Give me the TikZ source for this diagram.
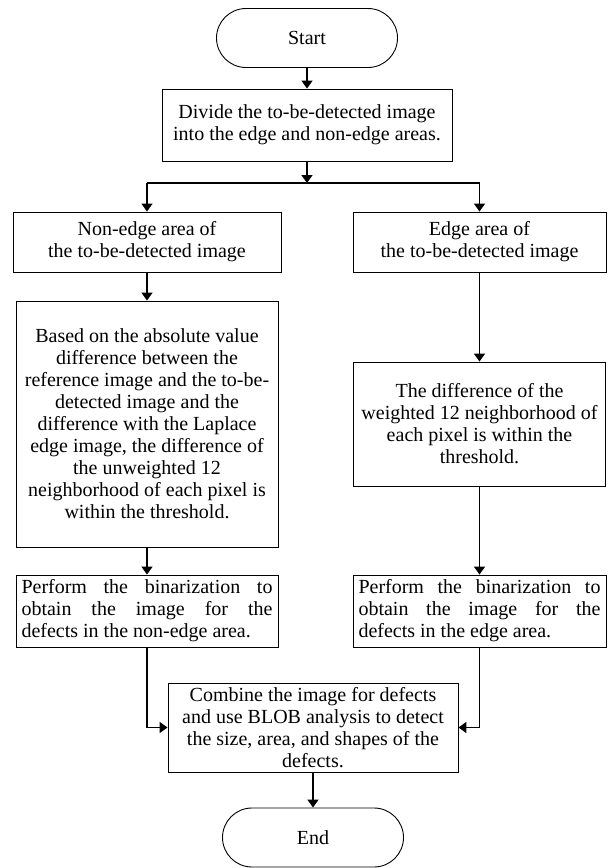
\documentclass[tikz,border=0pt]{standalone}
\usepackage{fontspec}
\setmainfont{Liberation Serif}
\usetikzlibrary{arrows.meta, positioning}

\begin{document}
\begin{tikzpicture}[
    x=1pt, y=-1pt,
    font=\fontsize{20}{22}\selectfont,
    startstop/.style={
        rectangle, draw=black, line width=0.9pt, fill=white,
        rounded corners=29.5pt, minimum height=59pt, minimum width=181pt,
        align=center
    },
    process/.style={
        rectangle, draw=black, line width=0.9pt, fill=white,
        inner sep=0pt, align=center
    },
    justbox/.style={
        process, align=justify, inner xsep=5.5pt, inner ysep=0pt
    },
    arrow/.style={
        -{Triangle[width=11pt,length=8pt]}, line width=1.6pt, draw=black
    }
]
    \useasboundingbox (0,0) rectangle (608,868);

    % --- NODES ---
    \node [startstop] (start) at (307, 38) {Start};
    \node [process, minimum width=290pt, minimum height=72pt] (divide) at (307, 125) {Divide the to-be-detected image\\into the edge and non-edge areas.};

    \coordinate (split) at (307, 183);
    \coordinate (split_l) at (147, 183);
    \coordinate (split_r) at (479.5, 183);

    \node [process, minimum width=268pt, minimum height=60pt] (p_nonedge) at (147, 242) {Non-edge area of\\the to-be-detected image};
    \node [process, minimum width=253pt, minimum height=60pt] (p_edge) at (479.5, 242) {Edge area of\\the to-be-detected image};

    \node [process, minimum width=262pt, minimum height=246pt] (p_diffnon) at (147, 424) {Based on the absolute value\\difference between the\\reference image and the to-be-\\detected image and the\\difference with the Laplace\\edge image, the difference of\\the unweighted 12\\neighborhood of each pixel is\\within the threshold.};
    \node [process, minimum width=252pt, minimum height=124pt] (p_diffedge) at (479.5, 424) {The difference of the\\weighted 12 neighborhood of\\each pixel is within the\\threshold.};

    \node [justbox, text width=251pt, minimum height=72pt] (p_binnon) at (147, 611) {Perform the binarization to\linebreak obtain the image for the\linebreak defects in the non-edge area.};
    \node [justbox, text width=242pt, minimum height=72pt] (p_binedge) at (479.5, 611) {Perform the binarization to\linebreak obtain the image for the\linebreak defects in the edge area.};

    \node [process, minimum width=290pt, minimum height=89pt] (p_combine) at (313, 727.5) {Combine the image for defects\\and use BLOB analysis to detect\\the size, area, and shapes of the\\defects.};
    \node [startstop] (end_node) at (313, 837.5) {End};

    % --- CONNECTING ARROWS ---
    \draw [arrow] (start) -- (divide);
    \draw [arrow] (divide) -- (split);
    \draw [line width=1.6pt] (split_l) -- (split_r);
    \draw [arrow] (split_l) -- (p_nonedge);
    \draw [arrow] (split_r) -- (p_edge);

    \draw [arrow] (p_nonedge) -- (p_diffnon);
    \draw [arrow] (p_edge) -- (p_diffedge);
    \draw [arrow] (p_diffnon) -- (p_binnon);
    \draw [arrow] (p_diffedge) -- (p_binedge);

    \draw [arrow] (p_binnon) |- (p_combine);
    \draw [arrow] (p_binedge) |- (p_combine);
    \draw [arrow] (p_combine) -- (end_node);

\end{tikzpicture}
\end{document}
